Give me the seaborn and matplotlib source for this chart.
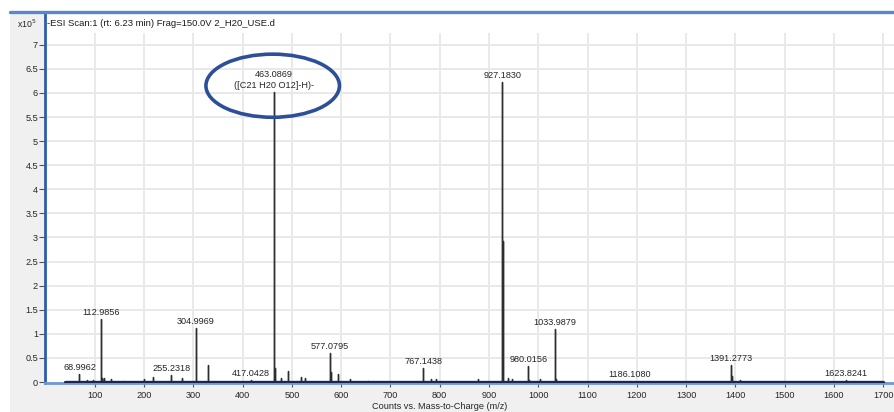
import numpy as np
import pandas as pd
import matplotlib
matplotlib.use("Agg")
import matplotlib.pyplot as plt
from matplotlib.patches import Ellipse, Rectangle
from matplotlib.lines import Line2D
from matplotlib.ticker import FuncFormatter
import seaborn as sns

# --- spectrum data (intensity in units of 1e5 counts) ---
scan_range = [40.0, 1700.0]

labeled_mz = [68.9962, 112.9856, 255.2318, 304.9969, 417.0428, 463.0869,
              577.0795, 767.1438, 927.1830, 980.0156, 1033.9879, 1186.1080,
              1391.2773, 1623.8241]
labeled_int = [0.17, 1.31, 0.15, 1.12, 0.04, 6.02,
               0.60, 0.29, 6.22, 0.33, 1.10, 0.03,
               0.35, 0.05]
main_formula = "([C21 H20 O12]-H)-"

minor_mz = [84.0, 97.0, 114.0, 119.0, 133.0, 160.0, 199.0, 218.0, 278.0,
            306.0, 329.0, 387.0, 464.09, 465.09, 478.0, 493.0, 519.0, 527.0,
            578.08, 579.08, 593.0, 617.0, 655.0, 783.0, 792.0, 877.0,
            928.19, 929.19, 938.0, 946.0, 981.02, 1003.0, 1034.99, 1036.0,
            1392.28, 1410.0, 1640.0]
minor_int = [0.04, 0.05, 0.08, 0.08, 0.06, 0.03, 0.06, 0.10, 0.08,
             0.20, 0.35, 0.03, 1.28, 0.30, 0.08, 0.22, 0.10, 0.08,
             0.35, 0.20, 0.17, 0.06, 0.03, 0.06, 0.07, 0.06,
             2.92, 0.30, 0.08, 0.06, 0.05, 0.07, 0.25, 0.06,
             0.12, 0.04, 0.03]

title_text = "-ESI Scan:1 (rt: 6.23 min) Frag=150.0V 2_H20_USE.d"
x_label = "Counts vs. Mass-to-Charge (m/z)"
x_ticks = list(range(100, 1800, 100))
y_ticks = [i * 0.5 for i in range(15)]

# --- build stick profile: baseline -> up -> down for each peak ---
peaks = sorted(zip(labeled_mz + minor_mz, labeled_int + minor_int))
px, py = [scan_range[0]], [0.0]
for mz, h in peaks:
    px += [mz, mz, mz]
    py += [0.0, h, 0.0]
px.append(scan_range[1])
py.append(0.0)
profile = pd.DataFrame({"mz": px, "intensity": py})

sns.set_theme(style="white")
plt.rcParams["font.family"] = ["Liberation Sans", "DejaVu Sans"]

W, H = 894, 412
fig = plt.figure(figsize=(W / 100, H / 100), dpi=100, facecolor="white")

# grey window panel behind the plot
fig.patches.append(Rectangle((10 / W, 0), 1, 1 - 12 / H, transform=fig.transFigure,
                             facecolor="#f0f0f0", edgecolor="none", zorder=-10))

ax_l, ax_r, ax_top, ax_bot = 45, 894, 12, 383
ax = fig.add_axes([ax_l / W, 1 - ax_bot / H, (ax_r - ax_l) / W, (ax_bot - ax_top) / H])
ax.set_facecolor("white")

x_max = 1722
ax.set_xlim(-1, x_max)
ax.set_ylim(-0.02, 7.68)

# light grid that stops below the title strip
grid_c = "#e9e9e9"
ax.vlines(x_ticks, 0, 7.24, colors=grid_c, lw=1.4, zorder=0)
ax.hlines(y_ticks[1:], -1, x_max, colors=grid_c, lw=1.4, zorder=0)

sns.lineplot(data=profile, x="mz", y="intensity", sort=False, estimator=None,
             color="#2e2e2e", lw=1.0, ax=ax, zorder=3)
sns.lineplot(x=scan_range, y=np.zeros(len(scan_range)), color="#1b2752",
             lw=2.4, ax=ax, zorder=4)

# peak labels
for i, (mz, h) in enumerate(zip(labeled_mz, labeled_int)):
    txt = f"{mz:.4f}"
    if i == 5:
        txt = txt + "\n" + main_formula
    ax.annotate(txt, xy=(mz, h), xytext=(0, 1.5), textcoords="offset points",
                ha="center", va="bottom", fontsize=6.6, color="#262626",
                linespacing=1.25, zorder=5)

# highlight the main precursor ion
mz0, h0 = labeled_mz[5], labeled_int[5]
ax.add_patch(Ellipse((mz0 - 2, h0 + 0.13), width=271, height=1.31, fill=False,
                     ec="#2d4f9a", lw=2.6, zorder=6))

# axes styling
for side in ("top", "right"):
    ax.spines[side].set_visible(False)
ax.spines["left"].set_color("#2f5cae")
ax.spines["left"].set_linewidth(2.0)
ax.spines["bottom"].set_color("#7097d2")
ax.spines["bottom"].set_linewidth(2.0)

ax.set_xticks(x_ticks)
ax.set_xticklabels([str(t) for t in x_ticks])
ax.set_yticks(y_ticks)
ax.yaxis.set_major_formatter(FuncFormatter(lambda v, _: f"{v:g}"))
ax.tick_params(axis="x", length=3, width=0.8, color="#555555", pad=3,
               labelsize=6.6, labelcolor="#262626", bottom=True)
ax.tick_params(axis="y", length=4, width=0.8, color="#555555", pad=1,
               labelsize=6.6, labelcolor="#262626", left=True)

ax.set_ylabel("")
ax.set_xlabel(x_label, fontsize=6.6, color="#262626")
ax.xaxis.set_label_coords((440 - ax_l) / (ax_r - ax_l), -0.052)

# title strip inside the frame
ax.text(2 / (ax_r - ax_l), 1 - 12 / (ax_bot - ax_top), title_text,
        transform=ax.transAxes, ha="left", va="center", fontsize=6.8,
        color="#1a1a1a")
fig.text(37 / W, 1 - 24 / H, r"x10$^{5}$", ha="right", va="center",
         fontsize=6.3, color="#262626")

# blue window top rule
fig.add_artist(Line2D([10 / W, 1], [1 - 11.5 / H] * 2, transform=fig.transFigure,
                      color="#5b86c9", lw=2.4))

fig.savefig("out.png", dpi=100, facecolor=fig.get_facecolor())
